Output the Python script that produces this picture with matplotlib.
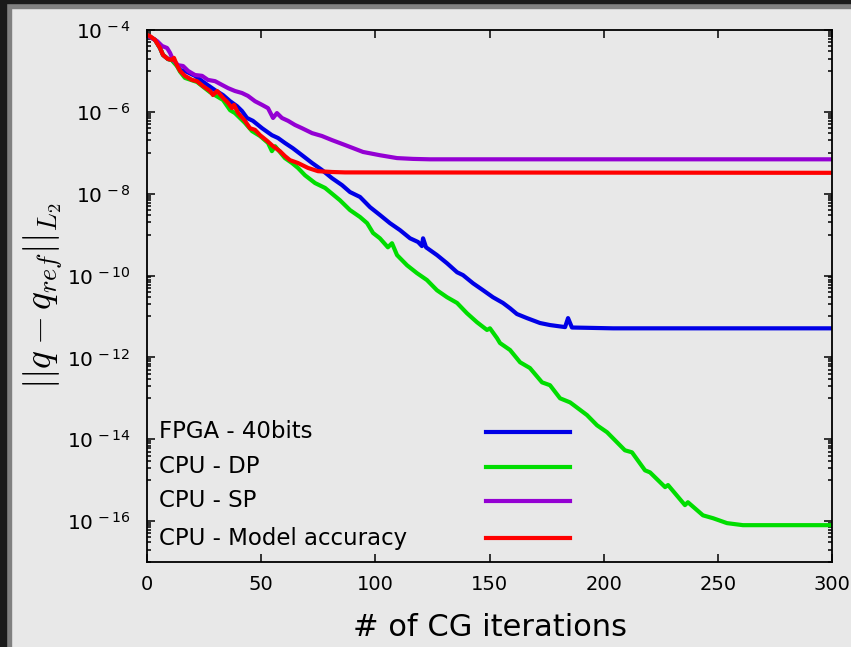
import numpy as np
import matplotlib.pyplot as plt
from matplotlib.patches import Rectangle
from matplotlib.lines import Line2D
from matplotlib.ticker import FixedLocator, NullFormatter, NullLocator

# data: iteration / log10(error)
fpga_it = [0, 3.5, 5.7, 7.0, 9.2, 10.9, 13.1, 14.5, 16.6, 21.0, 25.4, 29.8, 33.3, 36.4,
           39.4, 41.6, 43.8, 46.4, 50.4, 54.7, 57.4, 60.4, 63.9, 67.9, 72.3, 76.6, 81.0,
           85.4, 88.9, 93.3, 97.7, 102.0, 106.4, 110.8, 115.2, 118.7, 120.4, 120.9, 122.2,
           127.0, 131.4, 135.8, 138.4, 142.8, 147.2, 151.5, 155.9, 159.0, 162.0, 166.4,
           172.1, 176.5, 183.1, 184.4, 186.1, 204.1, 300]
fpga_log = [-4.12, -4.24, -4.44, -4.61, -4.71, -4.73, -4.86, -4.98, -5.00, -5.12, -5.30,
            -5.47, -5.59, -5.74, -5.86, -5.98, -6.15, -6.22, -6.40, -6.57, -6.64, -6.76,
            -6.89, -7.06, -7.25, -7.42, -7.62, -7.79, -7.96, -8.08, -8.33, -8.52, -8.72,
            -8.89, -9.09, -9.18, -9.28, -9.09, -9.31, -9.50, -9.70, -9.92, -9.99, -10.19,
            -10.36, -10.53, -10.67, -10.80, -10.94, -11.04, -11.16, -11.21, -11.26, -11.04,
            -11.27, -11.29, -11.29]

dp_it = [0, 3.5, 5.7, 7.0, 9.2, 10.9, 13.1, 14.5, 16.6, 21.9, 27.6, 33.3, 36.4, 38.5,
         42.9, 46.0, 49.5, 53.0, 54.7, 56.1, 60.4, 63.5, 66.1, 69.2, 73.6, 78.0, 84.5,
         88.9, 93.3, 96.4, 99.0, 102.0, 105.5, 107.3, 109.5, 113.9, 118.2, 122.6, 127.0,
         131.4, 135.8, 140.1, 144.5, 148.9, 150.2, 153.3, 154.6, 159.0, 163.4, 167.7,
         173.0, 176.5, 180.9, 185.3, 192.7, 197.1, 201.5, 209.3, 212.4, 218.1, 220.3,
         226.9, 228.2, 235.6, 236.9, 243.5, 247.9, 254.0, 261.0, 300]
dp_log = [-4.12, -4.24, -4.44, -4.61, -4.71, -4.74, -4.88, -5.02, -5.17, -5.27, -5.52,
          -5.71, -5.96, -6.03, -6.27, -6.47, -6.59, -6.76, -6.96, -6.84, -7.13, -7.25,
          -7.37, -7.55, -7.74, -7.86, -8.16, -8.40, -8.57, -8.72, -8.96, -9.09, -9.31,
          -9.21, -9.50, -9.75, -9.94, -10.11, -10.36, -10.53, -10.67, -10.92, -11.14,
          -11.33, -11.29, -11.53, -11.65, -11.82, -12.12, -12.26, -12.61, -12.68, -13.00,
          -13.10, -13.41, -13.66, -13.83, -14.27, -14.32, -14.76, -14.81, -15.17, -15.12,
          -15.61, -15.54, -15.86, -15.93, -16.05, -16.10, -16.10]

sp_it = [0, 4.4, 6.6, 8.8, 10.1, 11.4, 13.6, 15.8, 18.0, 21.0, 24.1, 26.7, 29.8, 32.8,
         35.5, 38.5, 41.6, 44.2, 47.3, 50.4, 53.0, 55.2, 56.9, 59.1, 61.8, 64.8, 67.9,
         72.3, 76.6, 81.0, 86.7, 94.6, 102.0, 109.5, 116.5, 123.9, 300]
sp_log = [-4.13, -4.27, -4.39, -4.44, -4.56, -4.73, -4.86, -4.88, -5.00, -5.10, -5.12,
          -5.22, -5.25, -5.34, -5.42, -5.49, -5.54, -5.61, -5.74, -5.83, -5.91, -6.15,
          -6.03, -6.15, -6.22, -6.32, -6.40, -6.52, -6.59, -6.69, -6.81, -6.98, -7.06,
          -7.13, -7.15, -7.16, -7.16]

model_it = [0, 1.3, 3.5, 5.7, 7.0, 9.2, 10.9, 11.8, 13.1, 14.5, 16.6, 19.7, 21.9, 24.5,
            27.6, 28.9, 30.7, 33.3, 35.5, 37.2, 38.1, 39.9, 42.9, 45.1, 47.3, 49.5, 52.6,
            55.2, 58.2, 60.4, 62.6, 66.1, 70.5, 74.9, 81.0, 86.7, 300]
model_log = [-4.12, -4.15, -4.24, -4.44, -4.61, -4.71, -4.73, -4.68, -4.86, -5.00, -5.12,
             -5.22, -5.25, -5.37, -5.49, -5.59, -5.49, -5.66, -5.78, -5.91, -5.83, -6.03,
             -6.22, -6.40, -6.44, -6.57, -6.71, -6.84, -6.96, -7.08, -7.18, -7.25, -7.37,
             -7.45, -7.47, -7.48, -7.49]

labels = ["FPGA - 40bits", "CPU - DP", "CPU - SP", "CPU - Model accuracy"]
colors = ["#0000e6", "#00dd00", "#9400d3", "#ff0000"]
series = [(fpga_it, fpga_log), (dp_it, dp_log), (sp_it, sp_log), (model_it, model_log)]

xticks = [0, 50, 100, 150, 200, 250, 300]
yexp = [-4, -6, -8, -10, -12, -14, -16]

bg = "#e8e8e8"
plt.rcParams["mathtext.fontset"] = "cm"

fig = plt.figure(figsize=(8.51, 6.47), dpi=100, facecolor=bg)
ax = fig.add_axes([147 / 851, 1 - 562 / 647, 685 / 851, 532 / 647])
ax.set_facecolor(bg)

# frame bands like the screenshot
fig.patches.append(Rectangle((0, 1 - 8 / 647), 1, 8 / 647, transform=fig.transFigure,
                             color="#808080", zorder=-1))
fig.patches.append(Rectangle((0, 0), 11 / 851, 1, transform=fig.transFigure,
                             color="#808080", zorder=-1))
fig.patches.append(Rectangle((0, 1 - 3 / 647), 1, 3 / 647, transform=fig.transFigure,
                             color="#1a1a1a", zorder=0))
fig.patches.append(Rectangle((0, 0), 6 / 851, 1, transform=fig.transFigure,
                             color="#1a1a1a", zorder=0))

for (it, lg), c in zip(series, colors):
    ax.plot(it, np.power(10.0, lg), color=c, lw=3.0, solid_joinstyle="round")

ax.set_yscale("log")
ax.set_xlim(0, 300)
ax.set_ylim(1e-17, 1e-4)

ax.set_xticks(xticks)
ax.xaxis.set_minor_locator(NullLocator())
ax.set_xticklabels([str(t) for t in xticks], fontsize=14)

major = [10.0 ** e for e in yexp]
minor = [k * 10.0 ** (e - 1) for e in yexp for k in range(1, 10)]
ax.yaxis.set_major_locator(FixedLocator(major))
ax.yaxis.set_minor_locator(FixedLocator(minor))
ax.yaxis.set_minor_formatter(NullFormatter())
ax.set_yticklabels([r"$\mathregular{10^{\,%d}}$" % e for e in yexp], fontsize=14.5)

ax.tick_params(which="both", direction="in", top=True, right=True, width=1.1)
ax.tick_params(which="major", length=6)
ax.tick_params(which="minor", length=3)
ax.tick_params(axis="x", pad=9)
ax.tick_params(axis="y", pad=12)
for s in ax.spines.values():
    s.set_linewidth(1.3)

ax.set_xlabel("# of CG iterations", fontsize=22, labelpad=14)
ax.set_ylabel(r"$||q - q_{ref}||_{L_2}$", fontsize=27, labelpad=1)

# gnuplot-style key: text on the left, sample line on the right
rows = [0.2444, 0.1786, 0.1147, 0.0451]
for lab, c, yy in zip(labels, colors, rows):
    ax.text(0.0175, yy, lab, transform=ax.transAxes, fontsize=16.5, va="center", ha="left")
    ax.add_line(Line2D([0.495, 0.6175], [yy, yy], transform=ax.transAxes, color=c, lw=3.0))

fig.savefig("out.png", dpi=100, facecolor=bg)
